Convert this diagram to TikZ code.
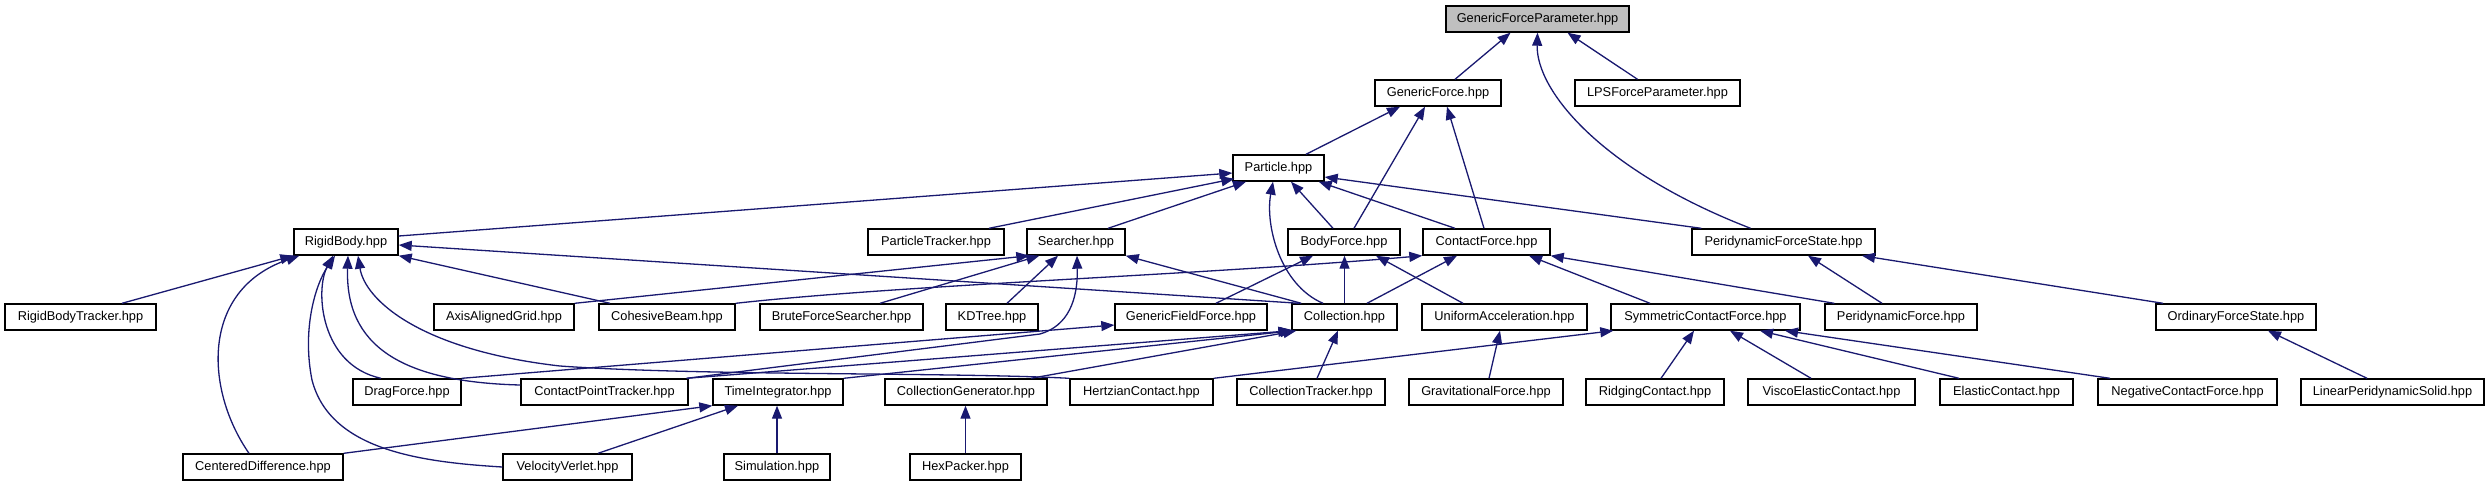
\documentclass[tikz,border=0pt]{standalone}
\usepackage{fontspec}
\setmainfont{Liberation Sans}
\usetikzlibrary{arrows.meta}
\definecolor{edgeblue}{RGB}{25,25,112}
\definecolor{rootgray}{RGB}{191,191,191}
\begin{document}
\begin{tikzpicture}[x=1pt,y=-1pt,
  box/.style={draw=black, line width=1.4pt, fill=white, minimum height=26pt, inner sep=0pt, font=\fontsize{12.8}{14}\selectfont},
  root/.style={box, fill=rootgray},
  dep/.style={draw=edgeblue, line width=1.3pt, -{Triangle[length=13pt,width=10pt]}}]
\useasboundingbox[fill=white] (0,0) rectangle (2488,485);
% row 0
\node[root, minimum width=183pt] (gfp) at (1537.5,19) {GenericForceParameter.hpp};
% row 1
\node[box, minimum width=126pt] (gf) at (1438,93) {GenericForce.hpp};
\node[box, minimum width=165pt] (lps) at (1657.5,93) {LPSForceParameter.hpp};
% row 2
\node[box, minimum width=91pt] (particle) at (1278.5,168) {Particle.hpp};
% row 3
\node[box, minimum width=104pt] (rigid) at (346,242) {RigidBody.hpp};
\node[box, minimum width=136pt] (ptrack) at (936,242) {ParticleTracker.hpp};
\node[box, minimum width=98pt] (searcher) at (1076,242) {Searcher.hpp};
\node[box, minimum width=112pt] (bodyf) at (1344,242) {BodyForce.hpp};
\node[box, minimum width=127pt] (contactf) at (1486.5,242) {ContactForce.hpp};
\node[box, minimum width=183pt] (pfs) at (1783.5,242) {PeridynamicForceState.hpp};
% row 4
\node[box, minimum width=151pt] (rbt) at (80.5,317) {RigidBodyTracker.hpp};
\node[box, minimum width=140pt] (aag) at (504,317) {AxisAlignedGrid.hpp};
\node[box, minimum width=136pt] (cb) at (667,317) {CohesiveBeam.hpp};
\node[box, minimum width=163pt] (bfs) at (841.5,317) {BruteForceSearcher.hpp};
\node[box, minimum width=92pt] (kd) at (992,317) {KDTree.hpp};
\node[box, minimum width=152pt] (gff) at (1191,317) {GenericFieldForce.hpp};
\node[box, minimum width=105pt] (coll) at (1344.5,317) {Collection.hpp};
\node[box, minimum width=165pt] (ua) at (1504.5,317) {UniformAcceleration.hpp};
\node[box, minimum width=189pt] (scf) at (1705.5,317) {SymmetricContactForce.hpp};
\node[box, minimum width=152pt] (pf) at (1901,317) {PeridynamicForce.hpp};
\node[box, minimum width=160pt] (ofs) at (2236,317) {OrdinaryForceState.hpp};
% row 5
\node[box, minimum width=108pt] (drag) at (407,392) {DragForce.hpp};
\node[box, minimum width=167pt] (cpt) at (604.5,392) {ContactPointTracker.hpp};
\node[box, minimum width=130pt] (ti) at (778,392) {TimeIntegrator.hpp};
\node[box, minimum width=162pt] (cg) at (966,392) {CollectionGenerator.hpp};
\node[box, minimum width=143pt] (hz) at (1141.5,392) {HertzianContact.hpp};
\node[box, minimum width=148pt] (ct) at (1311,392) {CollectionTracker.hpp};
\node[box, minimum width=154pt] (grav) at (1486,392) {GravitationalForce.hpp};
\node[box, minimum width=138pt] (ridge) at (1655,392) {RidgingContact.hpp};
\node[box, minimum width=167pt] (visco) at (1831.5,392) {ViscoElasticContact.hpp};
\node[box, minimum width=133pt] (elastic) at (2006.5,392) {ElasticContact.hpp};
\node[box, minimum width=179pt] (neg) at (2187.5,392) {NegativeContactForce.hpp};
\node[box, minimum width=183pt] (lps2) at (2392.5,392) {LinearPeridynamicSolid.hpp};
% row 6
\node[box, minimum width=160pt] (cd) at (263,467) {CenteredDifference.hpp};
\node[box, minimum width=129pt] (vv) at (567.5,467) {VelocityVerlet.hpp};
\node[box, minimum width=106pt] (sim) at (777,467) {Simulation.hpp};
\node[box, minimum width=111pt] (hex) at (965.5,467) {HexPacker.hpp};

% edges to GenericForceParameter
\draw[dep] ([xshift=17pt]gf.north) -- ([xshift=-27pt]gfp.south);
\draw[dep] ([xshift=-20pt]lps.north) -- ([xshift=30pt]gfp.south);
\draw[dep] ([xshift=-33pt]pfs.north) .. controls (1600,170) and (1536,90) .. (gfp.south);
% edges to GenericForce
\draw[dep] ([xshift=27.5pt]particle.north) -- ([xshift=-38pt]gf.south);
\draw[dep] ([xshift=10pt]bodyf.north) -- ([xshift=-13pt]gf.south);
\draw[dep] ([xshift=-2.5pt]contactf.north) -- ([xshift=9pt]gf.south);
% edges to Particle
\draw[dep] ([yshift=6pt]rigid.east) -- ([yshift=-5pt]particle.west);
\draw[dep] ([xshift=53pt]ptrack.north) -- ([xshift=2pt,yshift=3pt]particle.south west);
\draw[dep] ([xshift=32pt]searcher.north) -- ([xshift=-32.5pt]particle.south);
\draw[dep] ([xshift=-21.5pt]coll.north) .. controls (1280,285) and (1265,225) .. ([xshift=-5.5pt]particle.south);
\draw[dep] ([xshift=-11pt]bodyf.north) -- ([xshift=12.5pt]particle.south);
\draw[dep] ([xshift=-31.5pt]contactf.north) -- ([xshift=-6pt]particle.south east);
\draw[dep] ([xshift=10pt]pfs.north west) -- ([yshift=-9pt]particle.east);
% edges to RigidBody
\draw[dep] ([xshift=41.5pt]rbt.north) -- (rigid.south west);
\draw[dep] ([xshift=-14pt]cd.north) .. controls (205,390) and (200,290) .. ([xshift=6pt]rigid.south west);
\draw[dep] ([xshift=-26pt]drag.north) .. controls (320,365) and (315,290) .. ([xshift=-13pt]rigid.south);
\draw[dep] (vv.west) .. controls (420,462) and (330,450) .. (312,380) .. controls (302,330) and (315,285) .. ([xshift=-11pt]rigid.south);
\draw[dep] ([yshift=7pt]cpt.west) .. controls (400,382) and (345,345) .. ([xshift=2pt]rigid.south);
\draw[dep] (hz.north west) .. controls (950,372) and (700,376) .. (560,366) .. controls (420,350) and (365,300) .. ([xshift=12pt]rigid.south);
\draw[dep] ([xshift=-57pt]cb.north) -- (rigid.south east);
\draw[dep] ([xshift=8pt]coll.north west) -- ([yshift=-3pt]rigid.east);
% edges to Searcher
\draw[dep] (aag.north east) -- ([xshift=3pt]searcher.south west);
\draw[dep] ([xshift=38.5pt]bfs.north) -- ([xshift=13pt]searcher.south west);
\draw[dep] ([xshift=15pt]kd.north) -- ([xshift=-18pt]searcher.south);
\draw[dep] ([xshift=-2pt]cpt.north east) -- (1040,334) .. controls (1068,326) and (1078,300) .. ([xshift=1pt]searcher.south);
\draw[dep] ([xshift=10pt]coll.north west) -- (searcher.south east);
% edges to ContactForce
\draw[dep] (cb.north east) .. controls (900,285) and (1200,275) .. (contactf.south west);
\draw[dep] ([xshift=22.5pt]coll.north) -- ([xshift=-29.5pt]contactf.south);
\draw[dep] ([xshift=-55.5pt]scf.north) -- ([xshift=42.5pt]contactf.south);
\draw[dep] ([xshift=10pt]pf.north west) -- (contactf.south east);
% edges to BodyForce
\draw[dep] ([xshift=25pt]gff.north) -- ([xshift=-31pt]bodyf.south);
\draw[dep] (coll.north) -- (coll.north |- bodyf.south);
\draw[dep] ([xshift=-41.5pt]ua.north) -- ([xshift=32pt]bodyf.south);
% edges to PeridynamicForceState
\draw[dep] ([xshift=-19pt]pf.north) -- ([xshift=24.5pt]pfs.south);
\draw[dep] ([xshift=-73pt]ofs.north) -- ([xshift=78.5pt]pfs.south);
% row 5 to row 4
\draw[dep] (drag.north east) -- ([yshift=-8pt]gff.west);
\draw[dep] ([xshift=-2pt]cpt.north east) -- (coll.south west);
\draw[dep] (ti.north east) -- ([xshift=2pt]coll.south west);
\draw[dep] ([xshift=65pt]cg.north) -- ([xshift=5pt]coll.south west);
\draw[dep] ([xshift=6pt]ct.north) -- ([xshift=-6.5pt]coll.south);
\draw[dep] (hz.north east) -- ([xshift=3pt]scf.south west);
\draw[dep] ([xshift=3pt]grav.north) -- ([xshift=-4.5pt]ua.south);
\draw[dep] ([xshift=6pt]ridge.north) -- ([xshift=-11.5pt]scf.south);
\draw[dep] ([xshift=-20.5pt]visco.north) -- ([xshift=24.5pt]scf.south);
\draw[dep] ([xshift=-47.5pt]elastic.north) -- ([xshift=54.5pt]scf.south);
\draw[dep] ([xshift=-77.5pt]neg.north) -- ([xshift=79.5pt]scf.south);
\draw[dep] ([xshift=-25.5pt]lps2.north) -- ([xshift=32pt]ofs.south);
% row 6 to row 5
\draw[dep] (cd.north east) -- (ti.south west);
\draw[dep] ([xshift=30.5pt]vv.north) -- ([xshift=-40pt]ti.south);
\draw[dep] (sim.north) -- (sim.north |- ti.south);
\draw[dep] (hex.north) -- (hex.north |- cg.south);
\end{tikzpicture}
\end{document}
